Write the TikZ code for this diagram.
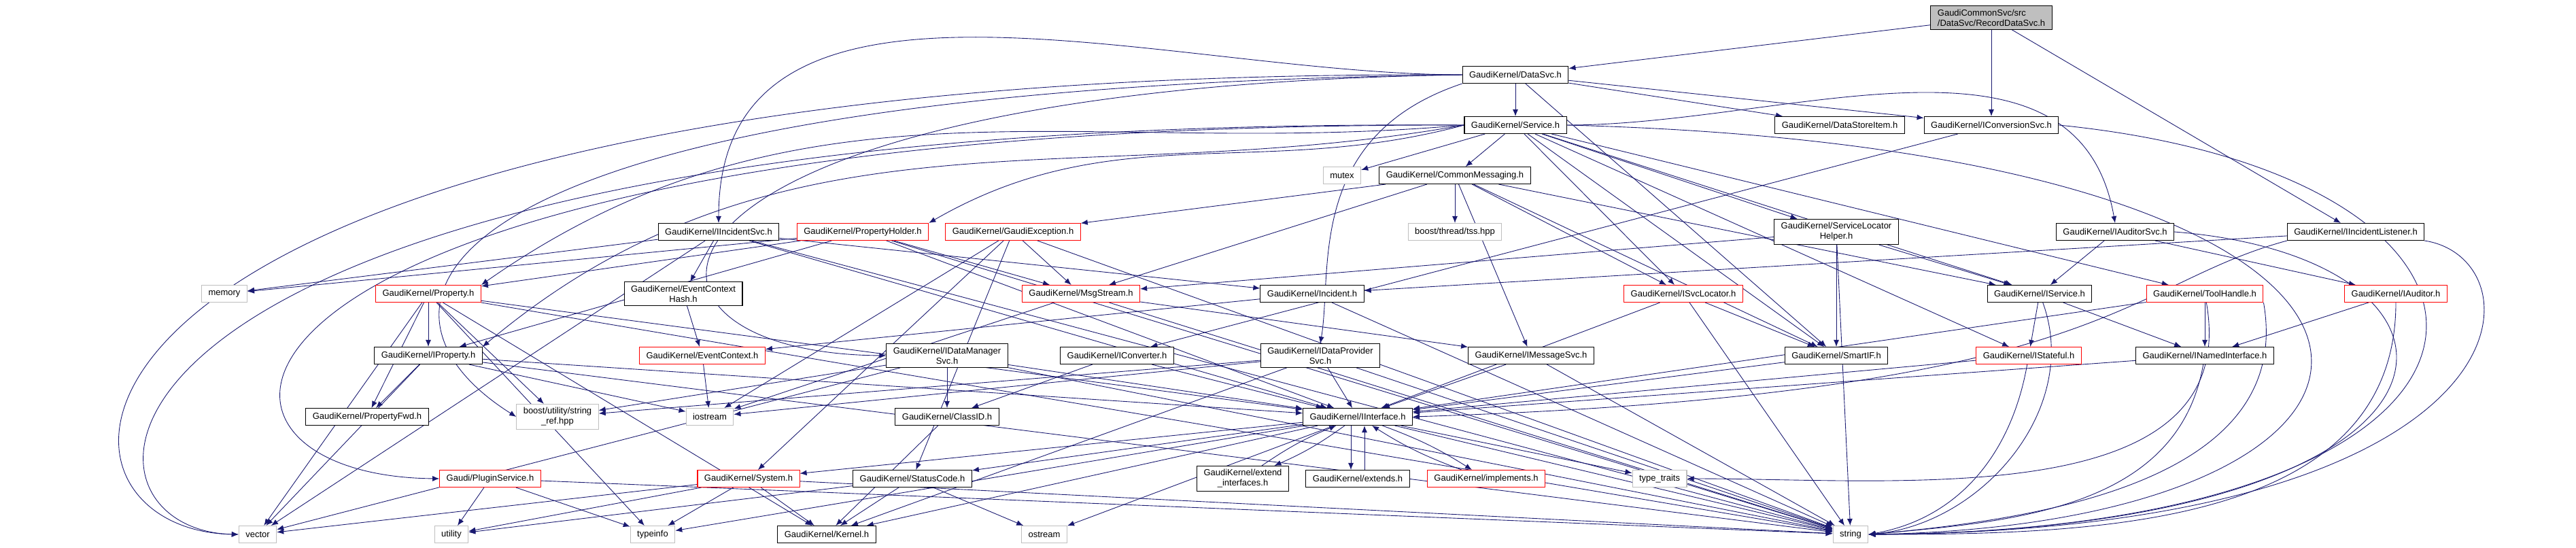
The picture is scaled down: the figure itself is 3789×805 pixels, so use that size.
\documentclass[tikz,border=0pt]{standalone}
\usepackage{fontspec}
\setmainfont{Liberation Sans}
\usepackage{tikz}
\usetikzlibrary{arrows.meta,positioning}
\definecolor{edgeblue}{HTML}{191970}
\pgfdeclarelayer{bg}
\pgfsetlayers{bg,main}

\begin{document}
\begin{tikzpicture}[x=0.02cm,y=-0.02cm,
    file/.style={draw=black,line width=0.6pt,fill=white,inner xsep=0.2cm,inner ysep=0.1cm,
      minimum height=0.5cm,align=center,font=\fontsize{7.4}{8.6}\selectfont},
    redfile/.style={file,draw=red},
    sysfile/.style={file,draw=black!25},
    rootfile/.style={file,fill=black!25,align=left},
    dep/.style={draw=edgeblue,line width=0.5pt,-{Latex[length=0.2cm,width=0.16cm]}}]
  \useasboundingbox (0,0) rectangle (3789,805);

  % row 0 and 1
  \node[rootfile] (root) at (2929,26) {GaudiCommonSvc/src\\/DataSvc/RecordDataSvc.h};
  \node[file] (datasvc) at (2229,110) {GaudiKernel/DataSvc.h};
  \node[file] (service) at (2229,184) {GaudiKernel/Service.h};
  \node[file] (datastoreitem) at (2706,184) {GaudiKernel/DataStoreItem.h};
  \node[file] (iconvsvc) at (2929,184) {GaudiKernel/IConversionSvc.h};
  \node[sysfile] (mutex) at (1974,258) {mutex};
  \node[file] (commsg) at (2140,258) {GaudiKernel/CommonMessaging.h};

  % row 2
  \node[file] (incsvc) at (1057,341) {GaudiKernel/IIncidentSvc.h};
  \node[redfile] (propholder) at (1269,341) {GaudiKernel/PropertyHolder.h};
  \node[redfile] (gaudiexc) at (1490,341) {GaudiKernel/GaudiException.h};
  \node[sysfile] (tss) at (2140,341) {boost/thread/tss.hpp};
  \node[file] (slhelper) at (2701,341) {GaudiKernel/ServiceLocator\\Helper.h};
  \node[file] (iauditorsvc) at (3111,341) {GaudiKernel/IAuditorSvc.h};
  \node[file] (iinclistener) at (3465,341) {GaudiKernel/IIncidentListener.h};

  % row 3
  \node[sysfile] (memory) at (330,432) {memory};
  \node[redfile] (property) at (630,432) {GaudiKernel/Property.h};
  \node[file] (ctxhash) at (1005,432) {GaudiKernel/EventContext\\Hash.h};
  \node[redfile] (msgstream) at (1590,432) {GaudiKernel/MsgStream.h};
  \node[file] (incident) at (1930,432) {GaudiKernel/Incident.h};
  \node[redfile] (isvcloc) at (2476,432) {GaudiKernel/ISvcLocator.h};
  \node[file] (iservice) at (3000,432) {GaudiKernel/IService.h};
  \node[redfile] (toolhandle) at (3243,432) {GaudiKernel/ToolHandle.h};
  \node[redfile] (iauditor) at (3524,432) {GaudiKernel/IAuditor.h};

  % row 4
  \node[redfile] (evctx) at (1033,523) {GaudiKernel/EventContext.h};
  \node[file] (iproperty) at (630,523) {GaudiKernel/IProperty.h};
  \node[file] (idatamgr) at (1393,523) {GaudiKernel/IDataManager\\Svc.h};
  \node[file] (iconverter) at (1643,523) {GaudiKernel/IConverter.h};
  \node[file] (idataprov) at (1942,523) {GaudiKernel/IDataProvider\\Svc.h};
  \node[file] (imsgsvc) at (2252,523) {GaudiKernel/IMessageSvc.h};
  \node[file] (smartif) at (2701,523) {GaudiKernel/SmartIF.h};
  \node[redfile] (istateful) at (2984,523) {GaudiKernel/IStateful.h};
  \node[file] (inamed) at (3243,523) {GaudiKernel/INamedInterface.h};

  % row 5
  \node[file] (propfwd) at (540,613) {GaudiKernel/PropertyFwd.h};
  \node[sysfile] (stringref) at (820,613) {boost/utility/string\\\_ref.hpp};
  \node[sysfile] (iostream) at (1044,613) {iostream};
  \node[file] (classid) at (1393,613) {GaudiKernel/ClassID.h};
  \node[file] (iinterface) at (1997,613) {GaudiKernel/IInterface.h};

  % row 6
  \node[redfile] (pluginsvc) at (721,704) {Gaudi/PluginService.h};
  \node[redfile] (system) at (1101,704) {GaudiKernel/System.h};
  \node[file] (statuscode) at (1342,704) {GaudiKernel/StatusCode.h};
  \node[file] (extendif) at (1828,704) {GaudiKernel/extend\\\_interfaces.h};
  \node[file] (extends) at (1997,704) {GaudiKernel/extends.h};
  \node[redfile] (implements) at (2186,704) {GaudiKernel/implements.h};
  \node[sysfile] (typetraits) at (2441,704) {type\_traits};

  % row 7
  \node[sysfile] (vector) at (379,786) {vector};
  \node[sysfile] (utility) at (664,786) {utility};
  \node[sysfile] (typeinfo) at (960,786) {typeinfo};
  \node[file] (kernel) at (1216,786) {GaudiKernel/Kernel.h};
  \node[sysfile] (ostream) at (1536,786) {ostream};
  \node[sysfile] (string) at (2722,786) {string};

  \begin{pgfonlayer}{bg}
  % RecordDataSvc.h
  \draw[dep] (root) -- (datasvc);
  \draw[dep] (root) -- (iconvsvc);
  \draw[dep] (root) -- (iinclistener);
  % DataSvc.h
  \draw[dep] (datasvc) -- (service);
  \draw[dep] (datasvc) -- (datastoreitem);
  \draw[dep] (datasvc) -- (iconvsvc);
  \draw[dep] (datasvc.west) to[out=180,in=90] (incsvc.north);
  \draw[dep] (datasvc.west) .. controls (880,130) and (860,520) .. (idatamgr.west);
  \draw[dep] (datasvc.south west) .. controls (1920,200) and (1960,400) .. (idataprov.north);
  \draw[dep] (datasvc) -- (smartif);
  \draw[dep] (datasvc.west) .. controls (600,130) and (500,450) .. (stringref.west);
  \draw[dep] (datasvc.west) .. controls (0,100) and (0,780) .. (vector.west);
  % Service.h
  \draw[dep] (service) -- (mutex);
  \draw[dep] (service) -- (commsg);
  \draw[dep] (service) -- (isvcloc);
  \draw[dep] (service) -- (slhelper);
  \draw[dep] (service.east) to[out=0,in=100] (iauditorsvc.north);
  \draw[dep] (service) -- (iservice);
  \draw[dep] (service) -- (istateful);
  \draw[dep] (service) -- (toolhandle);
  \draw[dep] (service) -- (smartif);
  \draw[dep] (service.west) to[out=190,in=40] (iproperty.north east);
  \draw[dep] (service.west) to[out=185,in=35] (property.north east);
  \draw[dep] (service.west) to[out=195,in=30] (propholder.north east);
  \draw[dep] (service.west) .. controls (250,180) and (200,700) .. (pluginsvc.west);
  \draw[dep] (service.west) .. controls (60,170) and (60,780) .. (vector.west);
  \draw[dep] (service.east) .. controls (3700,220) and (3660,770) .. (string.east);
  % CommonMessaging.h
  \draw[dep] (commsg) -- (tss);
  \draw[dep] (commsg) -- (gaudiexc);
  \draw[dep] (commsg) -- (msgstream);
  \draw[dep] (commsg) -- (imsgsvc);
  \draw[dep] (commsg) -- (isvcloc);
  \draw[dep] (commsg) -- (smartif);
  \draw[dep] (commsg) -- (iservice);
  % IConversionSvc.h
  \draw[dep] (iconvsvc) -- (iconverter);
  \draw[dep] (iconvsvc.east) .. controls (3789,260) and (3789,780) .. (string.east);
  % IIncidentSvc.h
  \draw[dep] (incsvc) -- (ctxhash);
  \draw[dep] (incsvc) -- (incident);
  \draw[dep] (incsvc) -- (iinterface);
  \draw[dep] (incsvc) -- (memory);
  \draw[dep] (incsvc) -- (vector);
  \draw[dep] (incsvc) -- (string);
  % PropertyHolder.h
  \draw[dep] (propholder) -- (property);
  \draw[dep] (propholder) -- (iproperty);
  \draw[dep] (propholder) -- (msgstream);
  \draw[dep] (propholder) -- (iinterface);
  \draw[dep] (propholder) -- (memory);
  \draw[dep] (propholder) -- (string);
  % GaudiException.h
  \draw[dep] (gaudiexc) -- (msgstream);
  \draw[dep] (gaudiexc) -- (statuscode);
  \draw[dep] (gaudiexc) -- (system);
  \draw[dep] (gaudiexc) -- (string);
  \draw[dep] (gaudiexc) -- (iostream);
  % ServiceLocatorHelper.h
  \draw[dep] (slhelper) -- (msgstream);
  \draw[dep] (slhelper) -- (smartif);
  \draw[dep] (slhelper) -- (iservice);
  \draw[dep] (slhelper) -- (string);
  % IAuditorSvc.h, IIncidentListener.h
  \draw[dep] (iauditorsvc) -- (iservice);
  \draw[dep] (iauditorsvc) -- (iauditor);
  \draw[dep] (iauditorsvc.east) .. controls (3690,380) and (3690,780) .. (string.east);
  \draw[dep] (iinclistener) -- (incident);
  \draw[dep] (iinclistener.south west) .. controls (3120,420) and (3100,580) .. (iinterface.east);
  \draw[dep] (iinclistener.south east) .. controls (3740,380) and (3740,780) .. (string.east);
  % Property.h
  \draw[dep] (property) -- (iproperty);
  \draw[dep] (property) -- (propfwd);
  \draw[dep] (property) -- (stringref);
  \draw[dep] (property) -- (vector);
  \draw[dep] (property) -- (typeinfo);
  \draw[dep] (property) -- (string);
  \draw[dep] (property) -- (kernel);
  \draw[dep] (property) -- (iinterface);
  % row 3 rest
  \draw[dep] (ctxhash) -- (evctx);
  \draw[dep] (msgstream) -- (iostream);
  \draw[dep] (msgstream) -- (imsgsvc);
  \draw[dep] (msgstream) -- (string);
  \draw[dep] (incident) -- (evctx);
  \draw[dep] (incident) -- (string);
  \draw[dep] (isvcloc) -- (smartif);
  \draw[dep] (isvcloc) -- (iinterface);
  \draw[dep] (isvcloc) -- (string);
  \draw[dep] (iservice) -- (istateful);
  \draw[dep] (iservice) -- (inamed);
  \draw[dep] (iservice) to[out=-70,in=5] (string.east);
  \draw[dep] (toolhandle) -- (inamed);
  \draw[dep] (toolhandle) -- (iinterface);
  \draw[dep] (toolhandle) to[out=-80,in=0] (typetraits.east);
  \draw[dep] (toolhandle.south east) to[out=-80,in=5] (string.east);
  \draw[dep] (iauditor) -- (inamed);
  \draw[dep] (iauditor) to[out=-90,in=0] (string.east);
  % row 4
  \draw[dep] (evctx) -- (iostream);
  \draw[dep] (iproperty) -- (propfwd);
  \draw[dep] (iproperty) -- (iinterface);
  \draw[dep] (iproperty) -- (iostream);
  \draw[dep] (iproperty) -- (vector);
  \draw[dep] (iproperty) -- (string);
  \draw[dep] (idatamgr) -- (stringref);
  \draw[dep] (idatamgr) -- (classid);
  \draw[dep] (idatamgr) -- (iinterface);
  \draw[dep] (idatamgr) -- (string);
  \draw[dep] (idatamgr) -- (vector);
  \draw[dep] (iconverter) -- (classid);
  \draw[dep] (iconverter) -- (iinterface);
  \draw[dep] (idataprov) -- (iinterface);
  \draw[dep] (idataprov) -- (stringref);
  \draw[dep] (idataprov) -- (iostream);
  \draw[dep] (idataprov) -- (kernel);
  \draw[dep] (idataprov) -- (string);
  \draw[dep] (imsgsvc) -- (iinterface);
  \draw[dep] (imsgsvc) -- (string);
  \draw[dep] (smartif) -- (iinterface);
  \draw[dep] (istateful) -- (iinterface);
  \draw[dep] (istateful) to[out=-100,in=10] (string.east);
  \draw[dep] (inamed) -- (iinterface);
  \draw[dep] (inamed) to[out=-100,in=5] (string.east);
  % row 5
  \draw[dep] (classid) -- (kernel);
  \draw[dep] ([xshift=-2mm]iinterface.south) -- ([xshift=-2mm]extends.north);
  \draw[dep] ([xshift=2mm]extends.north) -- ([xshift=2mm]iinterface.south);
  \draw[dep] (iinterface) to[bend left=6] (extendif);
  \draw[dep] (extendif) to[bend left=6] (iinterface);
  \draw[dep] (iinterface) to[bend left=6] (implements);
  \draw[dep] (implements) to[bend left=6] (iinterface);
  \draw[dep] (iinterface) -- (typetraits);
  \draw[dep] (iinterface) -- (string);
  \draw[dep] (iinterface) -- (ostream);
  \draw[dep] (iinterface) -- (statuscode);
  \draw[dep] (iinterface) -- (system);
  \draw[dep] (iinterface) -- (kernel);
  \draw[dep] (iinterface) -- (typeinfo);
  % row 6
  \draw[dep] (pluginsvc) -- (utility);
  \draw[dep] (pluginsvc) -- (typeinfo);
  \draw[dep] (pluginsvc) -- (string);
  \draw[dep] (system) -- (kernel);
  \draw[dep] (system) -- (typeinfo);
  \draw[dep] (system) -- (vector);
  \draw[dep] (system) -- (utility);
  \draw[dep] (system) -- (string);
  \draw[dep] (statuscode) -- (kernel);
  \draw[dep] (statuscode) -- (ostream);
  \draw[dep] (statuscode) -- (utility);
  \end{pgfonlayer}
\end{tikzpicture}
\end{document}
